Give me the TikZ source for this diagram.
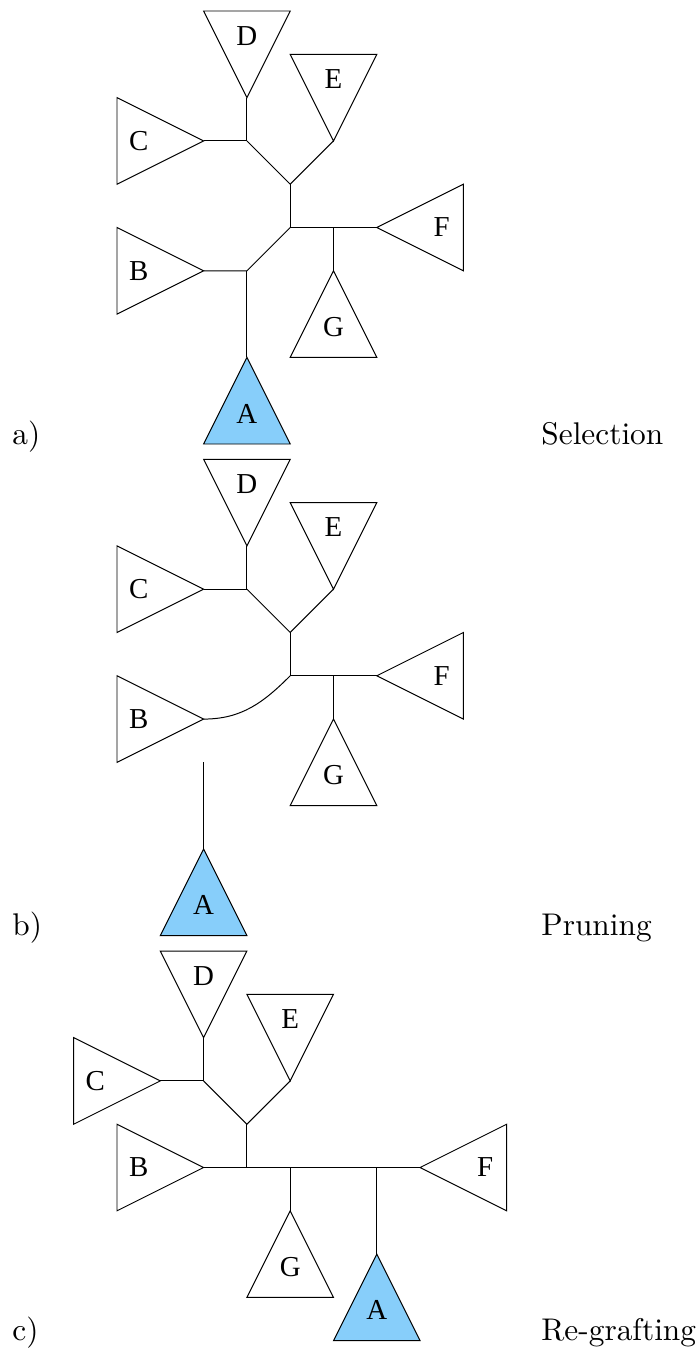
\documentclass[tikz,border=0pt]{standalone}
\usepackage{fontspec}
\newfontfamily\cladefont{Liberation Serif}
\newfontfamily\panelfont{lmroman10-regular}[Extension=.otf]
\definecolor{prunedblue}{HTML}{87CEFA}
\tikzset{
	clade body/.style={},
	cladelabel/.style={inner sep=0pt,font=\cladefont\fontsize{19}{22}\selectfont},
	panellabel/.style={anchor=base west,inner sep=0pt,font=\panelfont\fontsize{20.6}{24}\selectfont},
	% subtree triangle, apex at the origin, body pointing down
	pics/clade/.style 2 args={code={
		\draw[clade body] (0,0) -- (-1,-2) -- (1,-2) -- cycle;
		\node[cladelabel] at (0,-#2) {#1};
	}}
}
\begin{document}
\begin{tikzpicture}[line width=0.65pt]
\useasboundingbox (-0.702,0) rectangle (15.441,-31.247);

% a) selection
\begin{scope}[yshift=-0.254cm]
\coordinate (aD) at (5,-2);
\coordinate (aE) at (7,-3);
\coordinate (aC) at (4,-3);
\coordinate (aCD) at (5,-3);
\coordinate (aCE) at (6,-4);
\coordinate (aR) at (6,-5);
\coordinate (aFG) at (7,-5);
\coordinate (aF) at (8,-5);
\coordinate (aG) at (7,-6);
\coordinate (aAB) at (5,-6);
\coordinate (aB) at (4,-6);
\coordinate (aA) at (5,-8);
\pic[rotate=180] at (aD) {clade={D}{1.43}};
\pic[rotate=180] at (aE) {clade={E}{1.43}};
\pic[rotate=-90] at (aC) {clade={C}{1.5}};
\pic[rotate=-90] at (aB) {clade={B}{1.5}};
\pic[rotate=90] at (aF) {clade={F}{1.5}};
\pic at (aG) {clade={G}{1.3}};
\pic[clade body/.style={fill=prunedblue}] at (aA) {clade={A}{1.3}};
\draw (aC) -- (aCD) -- (aD);
\draw (aCD) -- (aCE) -- (aE);
\draw (aCE) -- (aR) -- (aFG) -- (aF);
\draw (aFG) -- (aG);
\draw (aR) -- (aAB) -- (aB);
\draw (aAB) -- (aA);
\node[panellabel] (alab) at (-0.425,-10) {a)};
\node[panellabel] (aname) at (11.79,-10) {Selection};
\end{scope}

% b) pruning
\begin{scope}[yshift=-10.607cm]
\coordinate (bD) at (5,-2);
\coordinate (bE) at (7,-3);
\coordinate (bC) at (4,-3);
\coordinate (bCD) at (5,-3);
\coordinate (bCE) at (6,-4);
\coordinate (bR) at (6,-5);
\coordinate (bFG) at (7,-5);
\coordinate (bF) at (8,-5);
\coordinate (bG) at (7,-6);
\coordinate (bB) at (4,-6);
\coordinate (bCut) at (4,-7);
\coordinate (bA) at (4,-9);
\pic[rotate=180] at (bD) {clade={D}{1.43}};
\pic[rotate=180] at (bE) {clade={E}{1.43}};
\pic[rotate=-90] at (bC) {clade={C}{1.5}};
\pic[rotate=-90] at (bB) {clade={B}{1.5}};
\pic[rotate=90] at (bF) {clade={F}{1.5}};
\pic at (bG) {clade={G}{1.3}};
\pic[clade body/.style={fill=prunedblue}] at (bA) {clade={A}{1.3}};
\draw (bC) -- (bCD) -- (bD);
\draw (bCD) -- (bCE) -- (bE);
\draw (bCE) -- (bR) -- (bFG) -- (bF);
\draw (bFG) -- (bG);
\draw (bB) to[out=0,in=225] (bR);
\draw (bCut) -- (bA);
\node[panellabel] (blab) at (-0.425,-11) {b)};
\node[panellabel] (bname) at (11.79,-11) {Pruning};
\end{scope}

% c) re-grafting
\begin{scope}[yshift=-21.963cm]
\coordinate (cD) at (4,-2);
\coordinate (cE) at (6,-3);
\coordinate (cC) at (3,-3);
\coordinate (cCD) at (4,-3);
\coordinate (cCE) at (5,-4);
\coordinate (cR) at (5,-5);
\coordinate (cB) at (4,-5);
\coordinate (cGJ) at (6,-5);
\coordinate (cG) at (6,-6);
\coordinate (cAJ) at (8,-5);
\coordinate (cA) at (8,-7);
\coordinate (cF) at (9,-5);
\pic[rotate=180] at (cD) {clade={D}{1.43}};
\pic[rotate=180] at (cE) {clade={E}{1.43}};
\pic[rotate=-90] at (cC) {clade={C}{1.5}};
\pic[rotate=-90] at (cB) {clade={B}{1.5}};
\pic[rotate=90] at (cF) {clade={F}{1.5}};
\pic at (cG) {clade={G}{1.3}};
\pic[clade body/.style={fill=prunedblue}] at (cA) {clade={A}{1.3}};
\draw (cC) -- (cCD) -- (cD);
\draw (cCD) -- (cCE) -- (cE);
\draw (cCE) -- (cR);
\draw (cB) -- (cR) -- (cGJ) -- (cAJ) -- (cF);
\draw (cGJ) -- (cG);
\draw (cAJ) -- (cA);
\node[panellabel] (clab) at (-0.425,-9) {c)};
\node[panellabel] (cname) at (11.79,-9) {Re-grafting};
\end{scope}
\end{tikzpicture}
\end{document}
